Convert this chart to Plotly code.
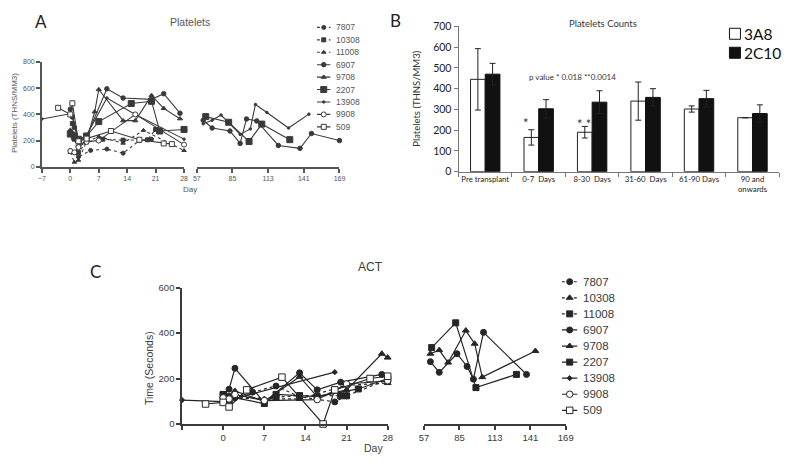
import plotly.graph_objects as go

W, H = 800, 467

PATIENTS = ["7807", "10308", "11008", "6907", "9708", "2207", "13908", "9908", "509"]

# ---------------- Panel A : Platelets (THNS/MM3) vs day ----------------
A_DAY_7807 = [0, 1, 2, 5, 9, 13, 17, 20]
A_PLT_7807 = [125, 110, 75, 125, 135, 104, 200, 210]
A_DAY_10308 = [0, 0.5, 1, 2, 4, 8, 13, 19, 21]
A_PLT_10308 = [265, 330, 210, 110, 190, 210, 203, 206, 285]
A_DAY_11008 = [0, 1, 2, 4, 7, 13, 18, 28]
A_PLT_11008 = [110, 35, 50, 190, 230, 180, 278, 124]
A_DAY_6907 = [0, 0.5, 1, 2, 4, 9, 13, 20, 23, 27,
              62, 69, 83, 91, 96, 104, 121, 138, 147, 169]
A_PLT_6907 = [440, 380, 300, 190, 230, 595, 525, 515, 558, 409,
              355, 296, 273, 178, 365, 350, 163, 141, 254, 200]
A_DAY_9708 = [0, 1, 2, 4, 6, 7, 13, 16, 20, 23, 27]
A_PLT_9708 = [280, 250, 160, 200, 420, 590, 352, 352, 545, 446, 367]
A_DAY_2207 = [0, 1, 2, 4, 7, 15, 20, 22, 28,
              64, 82, 98, 108, 130]
A_PLT_2207 = [250, 230, 210, 235, 345, 483, 500, 273, 285,
              383, 340, 193, 326, 207]
A_DAY_13908 = [-7, 0, 0.5, 2, 4, 9, 16, 28,
               62, 69, 76, 91, 99, 103, 112, 129, 145]
A_PLT_13908 = [365, 405, 390, 200, 240, 525, 400, 211,
               328, 355, 395, 247, 289, 476, 415, 296, 402]
A_DAY_9908 = [0, 1, 2, 4, 7, 16, 28]
A_PLT_9908 = [120, 110, 150, 190, 200, 400, 169]
A_DAY_509 = [-3, 0, 0.5, 2, 4, 10, 17, 23, 25]
A_PLT_509 = [450, 400, 485, 195, 215, 273, 206, 178, 173]

# ---------------- Panel B : Platelets counts by period ----------------
B_CATS = ["Pre transplant", "0-7  Days", "8-30  Days", "31-60  Days",
          "61-90 Days", "90 and<br>onwards"]
B_3A8 = [445, 165, 190, 340, 302, 260]
B_3A8_ERR = [148, 37, 28, 92, 15, 0]
B_2C10 = [470, 303, 335, 358, 352, 280]
B_2C10_ERR = [52, 44, 55, 42, 40, 42]
B_GROUPS = ["3A8", "2C10"]

# ---------------- Panel C : ACT (seconds) vs day ----------------
C_DAY_7807 = [0, 2, 5, 9, 13, 19, 21]
C_ACT_7807 = [110, 115, 140, 167, 120, 97, 124]
C_DAY_10308 = [0, 1, 2, 7, 13, 21, 28]
C_ACT_10308 = [100, 105, 120, 110, 110, 170, 180]
C_DAY_11008 = [0, 1, 9, 13, 20, 21, 28]
C_ACT_11008 = [130, 110, 117, 125, 124, 124, 195]
C_DAY_6907 = [0, 1, 2, 7, 13, 16, 20, 27,
              62, 69, 83, 91, 96, 104, 138]
C_ACT_6907 = [130, 153, 245, 95, 225, 150, 184, 218,
              274, 227, 309, 253, 197, 403, 218]
C_DAY_9708 = [0, 1, 2, 7, 13, 16, 21, 27, 28,
              62, 69, 76, 90, 97, 103, 145]
C_ACT_9708 = [120, 100, 145, 100, 208, 120, 150, 309, 292,
              309, 325, 270, 411, 353, 206, 321]
C_DAY_2207 = [0, 1, 7, 9, 16, 23, 28, 63, 82, 98, 130]
C_ACT_2207 = [128, 120, 90, 130, 120, 154, 200, 336, 445, 160, 218]
C_DAY_13908 = [-7, 0, 2, 19]
C_ACT_13908 = [105, 98, 112, 228]
C_DAY_9908 = [0, 1, 2, 7, 16, 21, 28]
C_ACT_9908 = [115, 110, 130, 103, 107, 176, 190]
C_DAY_509 = [-3, 0, 1, 4, 10, 17, 19, 25, 28]
C_ACT_509 = [88, 95, 75, 150, 206, 0, 150, 200, 210]

A_TICKS_1 = [-7, 0, 7, 14, 21, 28]
A_TICKS_2 = [57, 85, 113, 141, 169]
A_YTICKS = [0, 200, 400, 600, 800]
C_YTICKS = [0, 200, 400, 600]

A_DATA = {
    "7807": (A_DAY_7807, A_PLT_7807), "10308": (A_DAY_10308, A_PLT_10308),
    "11008": (A_DAY_11008, A_PLT_11008), "6907": (A_DAY_6907, A_PLT_6907),
    "9708": (A_DAY_9708, A_PLT_9708), "2207": (A_DAY_2207, A_PLT_2207),
    "13908": (A_DAY_13908, A_PLT_13908), "9908": (A_DAY_9908, A_PLT_9908),
    "509": (A_DAY_509, A_PLT_509),
}
C_DATA = {
    "7807": (C_DAY_7807, C_ACT_7807), "10308": (C_DAY_10308, C_ACT_10308),
    "11008": (C_DAY_11008, C_ACT_11008), "6907": (C_DAY_6907, C_ACT_6907),
    "9708": (C_DAY_9708, C_ACT_9708), "2207": (C_DAY_2207, C_ACT_2207),
    "13908": (C_DAY_13908, C_ACT_13908), "9908": (C_DAY_9908, C_ACT_9908),
    "509": (C_DAY_509, C_ACT_509),
}

A_COL = "#3a3a3a"
C_COL = "#262626"
A_TXT = "#555555"
C_TXT = "#3a3a3a"

A_STYLE = {
    "7807": ("circle", 4, "dot", False),
    "10308": ("square", 4, "dot", False),
    "11008": ("triangle-up", 4, "dot", False),
    "6907": ("circle", 4.5, "solid", False),
    "9708": ("triangle-up", 4.5, "solid", False),
    "2207": ("square", 6, "solid", False),
    "13908": ("circle", 2.5, "solid", False),
    "9908": ("circle", 5, "solid", True),
    "509": ("square", 5, "solid", True),
}
C_STYLE = {
    "7807": ("circle", 6, "dot", False),
    "10308": ("triangle-up", 6, "dot", False),
    "11008": ("square", 6, "dot", False),
    "6907": ("circle", 6, "solid", False),
    "9708": ("triangle-up", 6, "solid", False),
    "2207": ("square", 6, "solid", False),
    "13908": ("diamond", 4, "solid", False),
    "9908": ("circle", 6.5, "solid", True),
    "509": ("square", 6.5, "solid", True),
}

FONT_A = "Liberation Sans, Arial, sans-serif"
FONT_B = "Lato, Carlito, sans-serif"

fig = go.Figure()


def marker_of(style, col):
    sym, size, dash, hollow = style
    return dict(symbol=sym, size=size, color="white" if hollow else col,
                line=dict(color=col, width=1))


def add_series(days, vals, style, xa1, xa2, ya, col, lw):
    seg1 = [(d, v) for d, v in zip(days, vals) if d <= 28]
    seg2 = [(d, v) for d, v in zip(days, vals) if d > 28]
    for seg, xa in ((seg1, xa1), (seg2, xa2)):
        if not seg:
            continue
        fig.add_trace(go.Scatter(
            x=[p[0] for p in seg], y=[p[1] for p in seg], xaxis=xa, yaxis=ya,
            mode="lines+markers", cliponaxis=False, showlegend=False,
            line=dict(color=col, width=lw, dash=style[2]),
            marker=marker_of(style, col), hoverinfo="skip"))


def add_legend(names, styles, xa, ya, col, size, fcol, lw, family):
    for i, n in enumerate(names):
        st = styles[n]
        fig.add_trace(go.Scatter(x=[0, 1], y=[i, i], xaxis=xa, yaxis=ya, mode="lines",
                                 line=dict(color=col, width=lw, dash=st[2]),
                                 showlegend=False, hoverinfo="skip", cliponaxis=False))
        fig.add_trace(go.Scatter(x=[0.5], y=[i], xaxis=xa, yaxis=ya, mode="markers",
                                 marker=marker_of(st, col), showlegend=False,
                                 hoverinfo="skip", cliponaxis=False))
        fig.add_annotation(x=1, y=i, xref=xa, yref=ya, text=n, showarrow=False,
                           xanchor="left", yanchor="middle", xshift=3,
                           font=dict(family=family, size=size, color=fcol))


for n in PATIENTS:
    d, v = A_DATA[n]
    add_series(d, v, A_STYLE[n], "x", "x2", "y", A_COL, 1.1)
for n in PATIENTS:
    d, v = C_DATA[n]
    add_series(d, v, C_STYLE[n], "x4", "x5", "y4", C_COL, 1.2)

# Panel B bars
fig.add_trace(go.Bar(x=B_CATS, y=B_3A8, name=B_GROUPS[0], xaxis="x3", yaxis="y3",
                     marker=dict(color="white", line=dict(color="#222", width=1)),
                     error_y=dict(type="data", array=B_3A8_ERR, color="#222",
                                  thickness=1, width=3),
                     showlegend=False, hoverinfo="skip"))
fig.add_trace(go.Bar(x=B_CATS, y=B_2C10, name=B_GROUPS[1], xaxis="x3", yaxis="y3",
                     marker=dict(color="#111", line=dict(color="#111", width=1)),
                     error_y=dict(type="data", array=B_2C10_ERR, color="#222",
                                  thickness=1, width=3),
                     showlegend=False, hoverinfo="skip"))

# legends
add_legend(PATIENTS, A_STYLE, "x6", "y6", A_COL, 8.5, A_TXT, 1.1, FONT_A)
add_legend(PATIENTS, C_STYLE, "x8", "y8", C_COL, 11.5, C_TXT, 1.2, FONT_A)
B_LEG_STYLE = {"3A8": ("square", 11, "solid", True), "2C10": ("square", 11, "solid", False)}
for i, g in enumerate(B_GROUPS):
    fig.add_trace(go.Scatter(x=[0.5], y=[i], xaxis="x7", yaxis="y7", mode="markers",
                             marker=marker_of(B_LEG_STYLE[g], "#111"), showlegend=False,
                             hoverinfo="skip", cliponaxis=False))
    fig.add_annotation(x=1, y=i, xref="x7", yref="y7", text=g, showarrow=False,
                       xanchor="left", yanchor="middle", xshift=2,
                       font=dict(family=FONT_B, size=15.5, color="#111"))


def xd(a, b):
    return [a / W, b / W]


def yd(top, bottom):
    return [1 - bottom / H, 1 - top / H]


def axstyle(col, fsize, family, lw=1.5, fcol=None):
    return dict(showline=True, linecolor=col, linewidth=lw, ticks="outside",
                ticklen=4, tickwidth=lw, tickcolor=col, showgrid=False,
                zeroline=False, tickfont=dict(family=family, size=fsize, color=fcol or col),
                fixedrange=True)


lay = dict(
    width=W, height=H, margin=dict(l=0, r=0, t=0, b=0),
    paper_bgcolor="white", plot_bgcolor="white", showlegend=False,
    barmode="group", bargap=0.45, bargroupgap=0,
    xaxis=dict(domain=xd(37.5, 182), range=[-7, 28], anchor="y",
               tickvals=A_TICKS_1, **axstyle(A_TXT, 7, FONT_A)),
    xaxis2=dict(domain=xd(195, 340), range=[57, 169], anchor="y",
                tickvals=A_TICKS_2, **axstyle(A_TXT, 7, FONT_A)),
    yaxis=dict(domain=yd(57.5, 165), range=[0, 800], anchor="x",
               tickvals=A_YTICKS, **axstyle(A_TXT, 7, FONT_A)),
    xaxis3=dict(domain=xd(461, 787), anchor="y3", type="category", tickson="boundaries",
                tickangle=0, **axstyle("#777", 7.8, FONT_B, 1, "#222")),
    yaxis3=dict(domain=yd(21, 170), range=[0, 700], anchor="x3", dtick=100,
                **axstyle("#777", 10.5, FONT_B, 1, "#222")),
    xaxis4=dict(domain=xd(180, 389), range=[-7, 28], anchor="y4",
                tickvals=A_TICKS_1, ticktext=[""] + [str(t) for t in A_TICKS_1[1:]],
                **axstyle(C_TXT, 9.5, FONT_A)),
    xaxis5=dict(domain=xd(426, 570), range=[57, 169], anchor="y4",
                tickvals=A_TICKS_2, **axstyle(C_TXT, 9.5, FONT_A)),
    yaxis4=dict(domain=yd(289, 429), range=[0, 600], anchor="x4",
                tickvals=C_YTICKS, **axstyle(C_TXT, 9.5, FONT_A)),
    xaxis6=dict(domain=xd(317, 331), range=[0, 1], anchor="y6", visible=False),
    yaxis6=dict(domain=yd(15.6, 130.4), anchor="x6", visible=False,
                range=[len(PATIENTS) - 0.5, -0.5]),
    xaxis7=dict(domain=xd(737, 747), range=[0, 1], anchor="y7", visible=False),
    yaxis7=dict(domain=yd(18.75, 57.75), anchor="x7", visible=False,
                range=[len(B_GROUPS) - 0.5, -0.5]),
    xaxis8=dict(domain=xd(566, 582), range=[0, 1], anchor="y8", visible=False),
    yaxis8=dict(domain=yd(274.75, 423.25), anchor="x8", visible=False,
                range=[len(PATIENTS) - 0.5, -0.5]),
)
fig.update_layout(**lay)


def ann(text, px, py, size, family=FONT_A, color="#333", angle=0, xanchor="center"):
    fig.add_annotation(x=px / W, y=1 - py / H, xref="paper", yref="paper", text=text,
                       showarrow=False, xanchor=xanchor, yanchor="middle",
                       textangle=angle, font=dict(family=family, size=size, color=color))


# Panel A texts
ann("A", 37, 16, 17, FONT_B, "#222")
ann("Platelets", 188, 16, 10.5, FONT_A, A_TXT)
ann("Day", 188, 188, 8, FONT_A, A_TXT)
ann("Platelets (THNS/MM3)", 9, 110, 8, FONT_A, A_TXT, angle=-90)
# Panel B texts
ann("B", 397, 15, 17, FONT_B, "#222")
ann("Platelets Counts", 608, 18, 9.5, FONT_B, "#333")
ann("Platelets (THNS/MM3)", 418, 95, 9.5, FONT_B, "#333", angle=-90)
ann("p value * 0.018 **0.0014", 577, 73, 8, FONT_B, "#333")
ann("*", 530, 120, 13, FONT_B, "#333")
ann("* *", 589, 121, 13, FONT_B, "#333")
# Panel C texts
ann("C", 92, 273, 17, FONT_B, "#222")
ann("ACT", 372, 268, 12, FONT_A, C_TXT)
ann("Day", 375, 454, 10.5, FONT_A, C_TXT)
ann("Time (Seconds)", 147, 372, 10.5, FONT_A, C_TXT, angle=-90)

fig.write_html("out.html", config={"displayModeBar": False},
               post_script="document.body.style.margin='0px';")
